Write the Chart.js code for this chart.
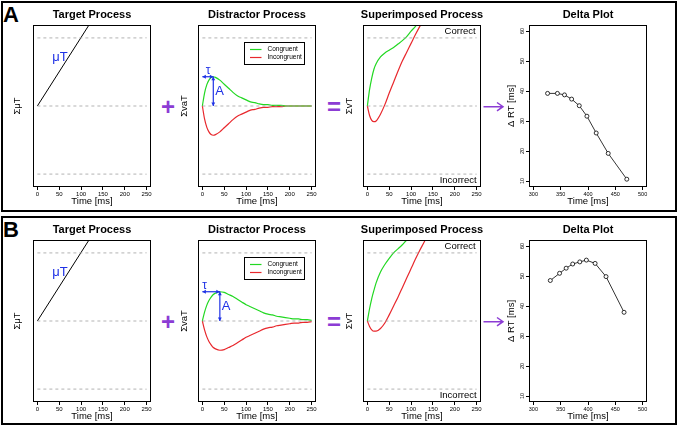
<!DOCTYPE html>
<html>
<head>
<meta charset="utf-8">
<title>DMC processes and delta plots</title>
<script src="https://cdn.jsdelivr.net/npm/chart.js@4.4.1/dist/chart.umd.min.js"></script>
<style>
  html, body { margin: 0; padding: 0; background: #fff; }
  body { position: relative; width: 678px; height: 433px; overflow: hidden;
         font-family: 'Liberation Sans', Arial, sans-serif; }
  canvas { position: absolute; }
  .frame { position: absolute; left: 1px; width: 676px; border: 2px solid #000; box-sizing: border-box; }
  .tag { position: absolute; left: 3px; font-size: 22px; font-weight: bold; line-height: 22px; }
  .op { position: absolute; width: 20px; text-align: center; color: #8c3cd4; font-weight: bold;
        font-size: 24px; line-height: 24px; }
  svg { position: absolute; left: 0; top: 0; }
</style>
</head>
<body>
<div class="frame" style="top:1px;height:211px"></div>
<div class="frame" style="top:216px;height:209px"></div>
<div class="tag" style="top:4px">A</div>
<div class="tag" style="top:219px">B</div>
<div class="op" style="left:158px;top:95px">+</div>
<div class="op" style="left:158px;top:310px">+</div>
<div class="op" style="left:324px;top:95px">=</div>
<div class="op" style="left:324px;top:310px">=</div>
<svg width="678" height="433">
  <g stroke="#8c3cd4" stroke-width="1.5" fill="none">
    <path d="M483.5 106.7 H503 M497 102.5 L503 106.7 L497 110.9"/>
    <path d="M483.5 321.7 H503 M497 317.5 L503 321.7 L497 325.9"/>
  </g>
</svg>
<script>
// ---- valeurs ----
const timeTicks = [0, 50, 100, 150, 200, 250];
const boundaryLevels = [1, 0, -1];

// processus cible (droite)
const targetTime = [0, 130];
const targetDrift = [0, 1.31];

// processus distracteur
const distTime = [0, 5, 10, 15, 20, 25, 30, 40, 50, 60, 70, 80, 90, 100, 110, 120, 130, 140, 150,
                  160, 170, 180, 190, 200, 210, 220, 230, 240, 250];
const congruentA = [0, 0.19, 0.31, 0.38, 0.42, 0.43, 0.42, 0.38, 0.32, 0.26, 0.20, 0.15, 0.12, 0.09,
                    0.06, 0.05, 0.03, 0.02, 0.02, 0.01, 0.01, 0.01, 0, 0, 0, 0, 0, 0, 0];
const incongruentA = [0, -0.19, -0.31, -0.38, -0.42, -0.43, -0.42, -0.38, -0.32, -0.26, -0.20, -0.15, -0.12, -0.09,
                      -0.06, -0.05, -0.03, -0.02, -0.02, -0.01, -0.01, -0.01, 0, 0, 0, 0, 0, 0, 0];
const congruentB = [0, 0.13, 0.23, 0.30, 0.35, 0.39, 0.41, 0.43, 0.42, 0.39, 0.36, 0.32, 0.28, 0.24,
                    0.21, 0.18, 0.15, 0.12, 0.10, 0.09, 0.07, 0.06, 0.05, 0.04, 0.03, 0.03, 0.02, 0.02, 0.01];
const incongruentB = [0, -0.13, -0.23, -0.30, -0.35, -0.39, -0.41, -0.43, -0.42, -0.39, -0.36, -0.32, -0.28, -0.24,
                      -0.21, -0.18, -0.15, -0.12, -0.10, -0.09, -0.07, -0.06, -0.05, -0.04, -0.03, -0.03, -0.02, -0.02, -0.01];
const tauA = 25, ampA = 0.43;
const tauB = 40, ampB = 0.43;

// processus superposé
const supTime = [0, 5, 10, 15, 20, 30, 40, 50, 60, 70, 80, 90, 100, 110, 120, 130, 140];
const supCongruentA = [0, 0.24, 0.41, 0.54, 0.62, 0.72, 0.78, 0.82, 0.86, 0.91, 0.96, 1.02, 1.10, 1.17, 1.26, 1.35, 1.43];
const supIncongruentA = [0, -0.14, -0.21, -0.23, -0.22, -0.12, 0.02, 0.19, 0.35, 0.51, 0.66, 0.79, 0.92, 1.05, 1.17, 1.28, 1.39];
const supCongruentB = [0, 0.18, 0.33, 0.45, 0.56, 0.72, 0.83, 0.92, 1.00, 1.06, 1.12, 1.19, 1.25, 1.32, 1.39, 1.46, 1.54];
const supIncongruentB = [0, -0.08, -0.13, -0.15, -0.15, -0.11, -0.03, 0.09, 0.22, 0.35, 0.49, 0.63, 0.77, 0.91, 1.04, 1.16, 1.29];

// delta plots
const deltaTicksX = [300, 350, 400, 450, 500];
const deltaTicksY = [10, 20, 30, 40, 50, 60];
const deltaTimeA = [326, 344, 357, 370, 384, 398, 415, 437, 471];
const deltaRtA = [39.2, 39.2, 38.7, 37.3, 35.1, 31.6, 26.0, 19.2, 10.6];
const deltaTimeB = [331, 348, 360, 372, 385, 397, 413, 433, 466];
const deltaRtB = [48.5, 50.9, 52.6, 54.0, 54.7, 55.3, 54.2, 49.8, 37.9];

// ---- mise en page ----
const FONT = "'Liberation Sans', Arial, Helvetica, sans-serif";
const GREEN = '#22d822', RED = '#e8282d', BLUE = '#1f32e6', GUIDE = '#a0a0a0';
const AXIS_W = 30, BOX_W = 118, TITLE_H = 25, BOX_H = 162, XAXIS_H = 23;
const ROW_TOP = [0, 215];

Chart.defaults.font.family = FONT;
Chart.defaults.color = '#000';

function pts(xs, ys) {
    return xs.map((x, i) => ({ x: x, y: ys[i] }));
}

function arrowHead(ctx, x, y, a) {
    const L = 4, W = 0.5;
    ctx.beginPath();
    ctx.moveTo(x, y);
    ctx.lineTo(x - L * Math.cos(a - W), y - L * Math.sin(a - W));
    ctx.lineTo(x - L * Math.cos(a + W), y - L * Math.sin(a + W));
    ctx.closePath();
    ctx.fill();
}

// cadre noir autour de la zone de tracé
const plotBox = {
    id: 'plotBox',
    afterDraw(chart) {
        const a = chart.chartArea, c = chart.ctx;
        c.save();
        c.strokeStyle = '#000';
        c.lineWidth = 1;
        c.strokeRect(Math.round(a.left) + 0.5, Math.round(a.top) + 0.5,
                     Math.round(a.width) - 1, Math.round(a.height) - 1);
        c.restore();
    }
};

// textes et flèches placés en coordonnées de données
const notes = {
    id: 'notes',
    afterDatasetsDraw(chart, args, opts) {
        if (!opts) return;
        const c = chart.ctx, x = chart.scales.x, y = chart.scales.y;
        (opts.arrows || []).forEach(ar => {
            const x1 = x.getPixelForValue(ar.from[0]), y1 = y.getPixelForValue(ar.from[1]);
            const x2 = x.getPixelForValue(ar.to[0]), y2 = y.getPixelForValue(ar.to[1]);
            c.save();
            c.strokeStyle = ar.color; c.fillStyle = ar.color; c.lineWidth = 1.2;
            c.beginPath(); c.moveTo(x1, y1); c.lineTo(x2, y2); c.stroke();
            arrowHead(c, x2, y2, Math.atan2(y2 - y1, x2 - x1));
            arrowHead(c, x1, y1, Math.atan2(y1 - y2, x1 - x2));
            c.restore();
        });
        (opts.items || []).forEach(n => {
            c.save();
            c.font = n.font;
            c.fillStyle = n.color || '#000';
            c.textAlign = n.align || 'left';
            c.textBaseline = 'middle';
            c.fillText(n.text, x.getPixelForValue(n.x) + (n.dx || 0), y.getPixelForValue(n.y) + (n.dy || 0));
            c.restore();
        });
    }
};

// légende encadrée dans la zone de tracé
const insetLegend = {
    id: 'insetLegend',
    afterDraw(chart, args, opts) {
        if (!opts || !opts.display) return;
        const a = chart.chartArea, c = chart.ctx;
        const bx = a.left + 46, by = a.top + 17;
        c.save();
        c.fillStyle = '#fff';
        c.fillRect(bx, by, 60, 23);
        c.strokeStyle = '#000'; c.lineWidth = 1;
        c.strokeRect(Math.round(bx) + 0.5, Math.round(by) + 0.5, 60, 22);
        c.font = '6.5px ' + FONT;
        c.textBaseline = 'middle';
        c.textAlign = 'left';
        chart.data.datasets.filter(d => d.label).forEach((d, i) => {
            const ry = by + 7.5 + i * 8;
            c.strokeStyle = d.borderColor; c.lineWidth = 1.2;
            c.beginPath(); c.moveTo(bx + 6, ry); c.lineTo(bx + 17.5, ry); c.stroke();
            c.fillStyle = '#000';
            c.fillText(d.label, bx + 23.5, ry);
        });
        c.restore();
    }
};

Chart.register(plotBox, notes, insetLegend);

function guideLines() {
    return boundaryLevels.map(b => ({
        data: [{ x: 0, y: b }, { x: 250, y: b }],
        borderColor: GUIDE, borderWidth: 0.8, borderDash: [3, 3], pointRadius: 0
    }));
}

function curve(label, xs, ys, color) {
    return {
        label: label, data: pts(xs, ys), borderColor: color, borderWidth: 1.2,
        pointRadius: 0, cubicInterpolationMode: 'monotone'
    };
}

function baseOptions(title, yTitle, yTitlePad) {
    return {
        responsive: false,
        animation: false,
        events: [],
        layout: { padding: 0 },
        plugins: {
            legend: { display: false },
            tooltip: { enabled: false },
            title: {
                display: true, text: title, color: '#000',
                font: { size: 11, weight: 'bold', lineHeight: '13px' },
                padding: { top: 8.5, bottom: 3.5 }
            }
        },
        scales: {
            x: {
                type: 'linear', min: -10, max: 260,
                afterBuildTicks: s => { s.ticks = timeTicks.map(v => ({ value: v })); },
                afterFit: s => { s.height = XAXIS_H; },
                ticks: { font: { size: 6 }, color: '#000', padding: 1, maxRotation: 0, autoSkip: false },
                grid: { drawOnChartArea: false, drawTicks: true, tickLength: 3, color: '#000' },
                border: { display: false },
                title: {
                    display: true, text: 'Time [ms]', color: '#000',
                    font: { size: 9.5, lineHeight: '11px' }, padding: { top: 0, bottom: 3.5 }
                }
            },
            y: {
                type: 'linear', min: -1.19, max: 1.19,
                afterFit: s => { s.width = AXIS_W; },
                ticks: { display: false },
                grid: { display: false },
                border: { display: false },
                title: {
                    display: true, text: yTitle, color: '#000',
                    font: { size: 9.5, lineHeight: '11px' }, padding: { top: yTitlePad, bottom: 0 }
                }
            },
            // marge vide à droite, pour centrer le titre sur la zone de tracé
            spacer: {
                type: 'linear', position: 'right', display: true,
                afterFit: s => { s.width = AXIS_W; },
                ticks: { display: false },
                grid: { display: false },
                border: { display: false }
            }
        }
    };
}

function addCanvas(boxX, row) {
    const cv = document.createElement('canvas');
    cv.width = AXIS_W + BOX_W + AXIS_W;
    cv.height = TITLE_H + BOX_H + XAXIS_H;
    cv.style.left = (boxX - AXIS_W) + 'px';
    cv.style.top = ROW_TOP[row] + 'px';
    document.body.appendChild(cv);
    return cv;
}

function renderTarget(row) {
    const opts = baseOptions('Target Process', '\u03A3\u03BCT', 8.5);
    opts.plugins.notes = {
        items: [{ text: '\u03BCT', x: 34, y: 0.71, color: BLUE, font: '13px ' + FONT }]
    };
    new Chart(addCanvas(33, row), {
        type: 'line',
        data: { datasets: guideLines().concat([{
            data: pts(targetTime, targetDrift), borderColor: '#000', borderWidth: 1, pointRadius: 0
        }]) },
        options: opts
    });
}

function renderDistractor(row, cong, incong, tau, amp, tauLabelX) {
    const opts = baseOptions('Distractor Process', '\u03A3vaT', 10.5);
    opts.plugins.insetLegend = { display: true };
    opts.plugins.notes = {
        arrows: [
            { from: [0, amp], to: [tau, amp], color: BLUE },
            { from: [tau, amp], to: [tau, 0], color: BLUE }
        ],
        items: [
            { text: '\u03C4', x: tauLabelX, y: amp, dy: -6, color: BLUE, font: '12px ' + FONT, align: 'center' },
            { text: 'A', x: tau, y: amp / 2, dx: 2, color: BLUE, font: '13px ' + FONT, align: 'left' }
        ]
    };
    new Chart(addCanvas(198, row), {
        type: 'line',
        data: { datasets: guideLines().concat([
            curve('Congruent', distTime, cong, GREEN),
            curve('Incongruent', distTime, incong, RED)
        ]) },
        options: opts
    });
}

function renderSuperimposed(row, cong, incong) {
    const opts = baseOptions('Superimposed Process', '\u03A3vT', 10.5);
    opts.plugins.notes = {
        items: [
            { text: 'Correct', x: 248, y: 1.1, align: 'right', font: '9.5px ' + FONT },
            { text: 'Incorrect', x: 250, y: -1.1, align: 'right', font: '9.5px ' + FONT }
        ]
    };
    new Chart(addCanvas(363, row), {
        type: 'line',
        data: { datasets: guideLines().concat([
            curve('', supTime, cong, GREEN),
            curve('', supTime, incong, RED)
        ]) },
        options: opts
    });
}

function renderDelta(row, times, rts) {
    const opts = baseOptions('Delta Plot', '\u0394 RT [ms]', 6.5);
    opts.scales.x.min = 292;
    opts.scales.x.max = 508;
    opts.scales.x.afterBuildTicks = s => { s.ticks = deltaTicksX.map(v => ({ value: v })); };
    opts.scales.x.ticks.font = { size: 5.5 };
    opts.scales.y = {
        type: 'linear', min: 8, max: 62,
        afterBuildTicks: s => { s.ticks = deltaTicksY.map(v => ({ value: v })); },
        afterFit: s => { s.width = AXIS_W; },
        ticks: { font: { size: 5.5 }, color: '#000', padding: 0, minRotation: 90, maxRotation: 90,
                 crossAlign: 'center', autoSkip: false },
        grid: { drawOnChartArea: false, drawTicks: true, tickLength: 3, color: '#000' },
        border: { display: false },
        title: {
            display: true, text: '\u0394 RT [ms]', color: '#000',
            font: { size: 9.5, lineHeight: '11px' }, padding: { top: 6.5, bottom: 0 }
        }
    };
    new Chart(addCanvas(529, row), {
        type: 'line',
        data: { datasets: [{
            data: pts(times, rts), borderColor: '#000', borderWidth: 0.8,
            pointRadius: 2, pointBorderWidth: 0.8, pointBorderColor: '#000', pointBackgroundColor: '#fff'
        }] },
        options: opts
    });
}

// panneau A
renderTarget(0);
renderDistractor(0, congruentA, incongruentA, tauA, ampA, 13);
renderSuperimposed(0, supCongruentA, supIncongruentA);
renderDelta(0, deltaTimeA, deltaRtA);

// panneau B
renderTarget(1);
renderDistractor(1, congruentB, incongruentB, tauB, ampB, 5);
renderSuperimposed(1, supCongruentB, supIncongruentB);
renderDelta(1, deltaTimeB, deltaRtB);
</script>
</body>
</html>
